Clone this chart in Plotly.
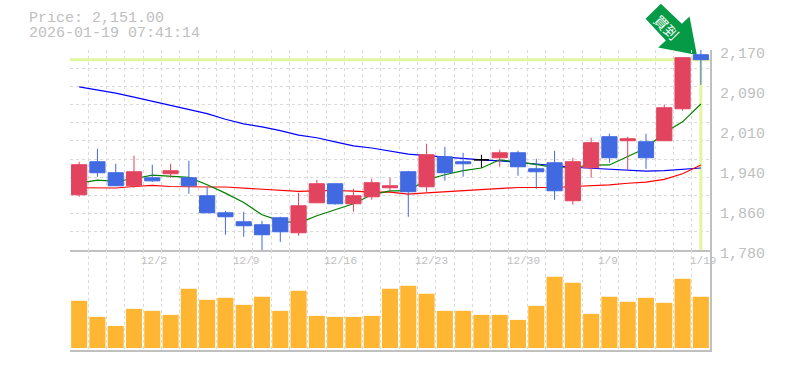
import plotly.graph_objects as go

days = list(range(35))
opens = [1887.8,1952.2,1930.8,1905.4,1921,1928.8,1921,1885.9,1852.7,1835.2,1829.4,1843,1813.8,1872.2,1909.3,1870.3,1883.9,1901.5,1932.7,1903.4,1961.9,1952.2,1956,1960,1969.7,1938.5,1950.2,1876.2,1940.5,2001,1993.2,1991.2,1993.2,2055.5,2160.8]
highs = [1952.2,1977.5,1948.3,1963.9,1946.4,1948.3,1954.2,1903.4,1856.6,1854.7,1837,1845,1891.8,1917,1909.3,1899.6,1919,1921,1934.6,1987.3,1981.4,1969.7,1965.9,1975.6,1973.6,1958,1973.7,1960,1999,2006.8,2001,2006.8,2063.3,2155,2170.6]
lows = [1884,1923,1905.4,1901.5,1913,1921,1889.8,1852.7,1809.9,1806,1780,1796,1807.9,1872.2,1868.4,1854.7,1878.1,1893.7,1844.9,1893.7,1915.2,1923,1940.5,1942.4,1924.9,1899.5,1878.1,1868.4,1921,1950.3,1934.7,1938.5,1993.2,2051.6,2102.3]
closes = [1946.4,1930.8,1905.4,1932.7,1915,1934.6,1905.4,1852.7,1845,1827.4,1809.9,1815.7,1866.4,1909.3,1870.3,1885.9,1911.3,1905.4,1893.7,1965.9,1930.8,1948.3,1956,1969.7,1942.4,1932.7,1895.6,1952.2,1989.3,1960,1997,1960,2057.5,2155,2151.1]
ma_short = [1910.6,1916.5,1913.8,1919,1926,1923.5,1921.6,1907.3,1891,1872.8,1848.8,1837,1832.6,1846.9,1858.6,1870.3,1887.8,1895.6,1895.6,1917,1926.8,1935,1940,1956,1951.6,1947,1940.5,1941,1945.8,1946,1962.5,1979,2008.7,2030,2064.7]
ma_mid = [1901.5,1901,1901,1904,1906,1904,1903,1903,1903,1901,1897.6,1895.6,1894.3,1895.6,1896.2,1895,1893,1893,1889,1891.7,1893.7,1896.2,1897,1899.5,1902,1902,1902,1904,1905.4,1907.3,1910.3,1912.6,1918,1928.8,1945.8]
ma_long = [2098,2092,2086,2078,2070,2062,2054,2046,2035,2026,2020,2013,2004,1999,1991,1983,1979,1973,1967,1964,1961,1958,1956,1954,1951,1947,1945,1941.5,1939.5,1938,1936,1934,1935,1937,1940]
volumes = [47,31,22,39,37,33,59,48,50,43,51,37,57,32,31,31,32,59,62,54,37,37,33,33,28,42,71,65,34,51,46,50,45,69,51]
doji_index = 22
current_price = 2151
y_tick_values = [2170,2092,2014,1936,1858,1780]
y_tick_labels = ["2,170","2,090","2,010","1,940","1,860","1,780"]
x_tick_index = [4,9,14,19,24,29,34]
x_tick_labels = ["12/2","12/9","12/16","12/23","12/30","1/9","1/19"]
title_lines = ["Price: 2,151.00","2026-01-19 07:41:14"]
badge_text = "買到"

GRAY = "#c0c0c0"; GRID = "#dadada"; RED = "#e2435f"; BLUE = "#4169e1"
MONO = "Liberation Mono"
y_min, y_max = 1780, 2170
PRICE_BOTTOM = 0.333

fig = go.Figure()
# lines sit beneath the candles: candles go on an overlaying axis
fig.add_trace(go.Scatter(x=[days[0]-0.5, days[-1]+0.5], y=[current_price]*2, mode="lines", line=dict(color="#e2f5a0", width=3)))
fig.add_trace(go.Scatter(x=[days[-1]]*2, y=[y_min, current_price], mode="lines", line=dict(color="#e2f5a0", width=3)))
fig.add_trace(go.Scatter(x=days, y=ma_long, mode="lines", line=dict(color="#0000ff", width=1.2)))
fig.add_trace(go.Scatter(x=days, y=ma_mid, mode="lines", line=dict(color="#ff0000", width=1.2)))
fig.add_trace(go.Scatter(x=days, y=ma_short, mode="lines", line=dict(color="#008000", width=1.2)))

idx = [i for i in days if i != doji_index]
fig.add_trace(go.Candlestick(x=idx, open=[opens[i] for i in idx], high=[highs[i] for i in idx], low=[lows[i] for i in idx], close=[closes[i] for i in idx],
    increasing=dict(line=dict(color=RED, width=1), fillcolor=RED), decreasing=dict(line=dict(color=BLUE, width=1), fillcolor=BLUE),
    whiskerwidth=0, yaxis="y3", xaxis="x"))
fig.add_trace(go.Candlestick(x=[doji_index], open=[opens[doji_index]], high=[highs[doji_index]], low=[lows[doji_index]], close=[closes[doji_index]],
    increasing=dict(line=dict(color="#000000", width=1), fillcolor="#000000"), decreasing=dict(line=dict(color="#000000", width=1), fillcolor="#000000"),
    whiskerwidth=0, yaxis="y3", xaxis="x"))
fig.add_trace(go.Bar(x=days, y=volumes, marker=dict(color="#ffb733", line=dict(width=0)), xaxis="x2", yaxis="y2"))

x_common = dict(range=[-0.5, 34.5], tick0=-0.5, dtick=1, showticklabels=False, ticks="", showgrid=True, gridcolor=GRID, griddash="3px,3px", gridwidth=1, showline=True, linecolor=GRAY, linewidth=1.5, zeroline=False, fixedrange=True)
fig.update_layout(
    width=785, height=370, margin=dict(l=70, r=75, t=50, b=20), paper_bgcolor="white", plot_bgcolor="white",
    showlegend=False, bargap=0.12, boxgap=0.17, boxgroupgap=0, boxmode="overlay",
    xaxis=dict(x_common, domain=[0, 1], anchor="y", rangeslider=dict(visible=False)),
    xaxis2=dict(x_common, domain=[0, 1], anchor="y2"),
    yaxis=dict(domain=[PRICE_BOTTOM, 1], range=[y_min, y_max], tick0=y_min, dtick=(y_max-y_min)/11, side="right", showticklabels=False, ticks="", showgrid=True, gridcolor=GRID, griddash="3px,3px", gridwidth=1, showline=True, linecolor=GRAY, linewidth=1.5, zeroline=False),
    yaxis2=dict(domain=[0, PRICE_BOTTOM], range=[-2, 97.5], side="right", showticklabels=False, ticks="", showgrid=False, showline=True, linecolor=GRAY, linewidth=1.5, zeroline=False),
    yaxis3=dict(domain=[PRICE_BOTTOM, 1], range=[y_min, y_max], overlaying="y", side="right", visible=False),
)
for v, t in zip(y_tick_values, y_tick_labels):
    fig.add_annotation(text=t, xref="paper", x=1, xanchor="left", xshift=8, yref="y", y=v, yanchor="middle", yshift=-4, showarrow=False, font=dict(family=MONO, size=15, color=GRAY))
for i, t in zip(x_tick_index, x_tick_labels):
    fig.add_annotation(text=t, xref="x2", x=i-0.5, xanchor="left", xshift=-4, yref="y2 domain", y=1, yanchor="top", yshift=-3, showarrow=False, font=dict(family=MONO, size=11, color=GRAY))
for k, t in enumerate(title_lines):
    fig.add_annotation(text=t, xref="paper", x=0, xanchor="left", xshift=-42, yref="paper", y=1, yanchor="middle", yshift=32-15*k, height=13, borderpad=0, showarrow=False, font=dict(family=MONO, size=15, color=GRAY))
# badge arrow anchored to the last candle / current price (paper refs so it can leave the plot area)
anchor_x = (days[-1] + 0.5) / 35
anchor_y = PRICE_BOTTOM + (1 - PRICE_BOTTOM) * (current_price - y_min) / (y_max - y_min)
fig.add_shape(type="path", xref="paper", yref="paper", xsizemode="pixel", ysizemode="pixel", xanchor=anchor_x, yanchor=anchor_y,
    path="M -40 56 L -55.3 41 L -35 19.3 L -42.7 12.3 L -4 4.7 L -11.3 43.3 L -19 36 Z", fillcolor="#059a45", line=dict(width=0), layer="below")
# badge label placed directly in paper fractions, sits on the arrow shaft
fig.add_annotation(text=badge_text, xref="paper", x=(666.7-70)/640, xanchor="center", yref="paper", y=(350-26.7)/300, yanchor="middle", textangle=45, showarrow=False, font=dict(family="Noto Sans CJK JP", size=14, color="#ffffff"))

fig.write_html("out.html", config=dict(displayModeBar=False), post_script="document.body.style.margin='0';")
